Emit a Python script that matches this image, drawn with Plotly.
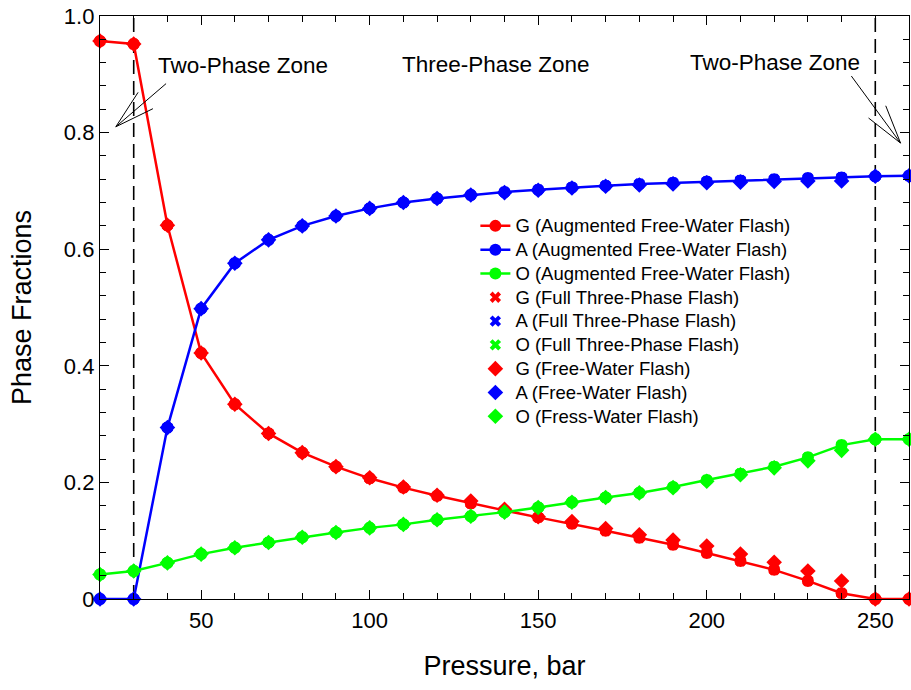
import plotly.graph_objects as go

pressure = [20, 30, 40, 50, 60, 70, 80, 90, 100, 110, 120, 130, 140, 150, 160,
            170, 180, 190, 200, 210, 220, 230, 240, 250, 260]

g_aug = [0.957, 0.952, 0.641, 0.422, 0.334, 0.284, 0.251, 0.227, 0.207, 0.191, 0.177,
         0.164, 0.152, 0.140, 0.129, 0.117, 0.105, 0.093, 0.079, 0.065, 0.050, 0.031,
         0.010, 0.0, 0.0]
a_aug = [0.0, 0.0, 0.294, 0.498, 0.576, 0.616, 0.640, 0.657, 0.670, 0.680, 0.687,
         0.693, 0.698, 0.702, 0.706, 0.709, 0.712, 0.714, 0.716, 0.718, 0.720, 0.722,
         0.723, 0.725, 0.726]
o_aug = [0.042, 0.048, 0.062, 0.077, 0.088, 0.097, 0.106, 0.114, 0.122, 0.128, 0.136,
         0.142, 0.149, 0.157, 0.166, 0.174, 0.182, 0.192, 0.204, 0.215, 0.227, 0.243,
         0.264, 0.274, 0.274]

g_full = g_aug[:]
a_full = a_aug[:]
o_full = o_aug[:]

g_fw = [0.957, 0.952, 0.641, 0.422, 0.334, 0.284, 0.251, 0.227, 0.208, 0.192, 0.178,
        0.168, 0.154, 0.141, 0.133, 0.121, 0.110, 0.101, 0.091, 0.077, 0.063, 0.048,
        0.031, 0.0, 0.0]
a_fw = [0.0, 0.0, 0.294, 0.498, 0.576, 0.616, 0.640, 0.657, 0.670, 0.680, 0.687,
        0.693, 0.697, 0.701, 0.705, 0.708, 0.710, 0.712, 0.714, 0.715, 0.716, 0.717,
        0.717, 0.725, 0.726]
o_fw = [0.042, 0.048, 0.062, 0.077, 0.088, 0.097, 0.106, 0.114, 0.122, 0.128, 0.136,
        0.142, 0.149, 0.157, 0.166, 0.174, 0.182, 0.191, 0.202, 0.213, 0.225, 0.237,
        0.255, 0.274, 0.274]

zone_bounds = [30, 250]
zone_labels = ["Two-Phase Zone", "Three-Phase Zone", "Two-Phase Zone"]
zone_label_x = [62.4, 137.6, 220.3]
zone_label_y = [0.915, 0.917, 0.920]

# arrows: tail, tip, head end 1, head end 2 (data coords)
left_arrow = [(39.6, 0.884), (24.7, 0.810), (35.7, 0.841), (31.3, 0.869)]
right_arrow = [(242.9, 0.897), (257.5, 0.782), (248.0, 0.825), (253.1, 0.846)]

RED, BLUE, GREEN = "#FF0000", "#0000FF", "#00FF00"
FONT = "Liberation Sans, Arial, sans-serif"


def leg(name):
    return '<span style="font-size:18.5px">' + name + '</span>'


fig = go.Figure()

for name, ys, col in [("G (Augmented Free-Water Flash)", g_aug, RED),
                      ("A (Augmented Free-Water Flash)", a_aug, BLUE),
                      ("O (Augmented Free-Water Flash)", o_aug, GREEN)]:
    fig.add_trace(go.Scatter(x=pressure, y=ys, name=leg(name), mode="lines+markers",
                             line=dict(color=col, width=2.5),
                             marker=dict(symbol="circle", size=12, color=col),
                             cliponaxis=False))

for name, ys, col in [("G (Full Three-Phase Flash)", g_full, RED),
                      ("A (Full Three-Phase Flash)", a_full, BLUE),
                      ("O (Full Three-Phase Flash)", o_full, GREEN)]:
    fig.add_trace(go.Scatter(x=pressure, y=ys, name=leg(name), mode="markers",
                             marker=dict(symbol="x", size=10, color=col,
                                         line=dict(width=0)),
                             cliponaxis=False))

for name, ys, col in [("G (Free-Water Flash)", g_fw, RED),
                      ("A (Free-Water Flash)", a_fw, BLUE),
                      ("O (Fress-Water Flash)", o_fw, GREEN)]:
    fig.add_trace(go.Scatter(x=pressure, y=ys, name=leg(name), mode="markers",
                             marker=dict(symbol="diamond", size=12, color=col),
                             cliponaxis=False))

shapes = []
for xb in zone_bounds:
    shapes.append(dict(type="line", xref="x", yref="y", x0=xb, x1=xb, y0=0, y1=1,
                       line=dict(color="black", width=1.6, dash="14px,7px"), layer="below"))
for arr in (left_arrow, right_arrow):
    tail, tip, h1, h2 = arr
    for p in (tail, h1, h2):
        shapes.append(dict(type="line", xref="x", yref="y", x0=p[0], y0=p[1],
                           x1=tip[0], y1=tip[1], line=dict(color="black", width=1)))

annotations = []
for txt, xa, ya in zip(zone_labels, zone_label_x, zone_label_y):
    annotations.append(dict(text=txt, x=xa, y=ya, xref="x", yref="y", showarrow=False,
                            font=dict(size=22.5, color="black", family=FONT)))

fig.update_layout(
    width=911, height=690,
    margin=dict(l=100, r=2, t=16, b=91),
    paper_bgcolor="white", plot_bgcolor="white",
    font=dict(family=FONT, color="black"),
    shapes=shapes, annotations=annotations,
    showlegend=True,
    legend=dict(x=0.464, y=0.669, xanchor="left", yanchor="top",
                bgcolor="rgba(0,0,0,0)", font=dict(size=16, family=FONT),
                tracegroupgap=0),
)

fig.update_xaxes(range=[20, 260], tickvals=[50, 100, 150, 200, 250],
                 ticks="inside", ticklen=9, tickwidth=1.3, tickcolor="black",
                 showline=True, linecolor="black", linewidth=1.3, mirror="ticks",
                 showgrid=False, zeroline=False, ticklabelstandoff=1,
                 tickfont=dict(size=22, family=FONT),
                 minor=dict(dtick=10, tick0=0, ticks="inside", ticklen=6, tickwidth=1,
                            tickcolor="black", showgrid=False),
                 title=dict(text="Pressure, bar", font=dict(size=27, family=FONT), standoff=24))
fig.update_yaxes(range=[0, 1], tickvals=[0, 0.2, 0.4, 0.6, 0.8, 1.0],
                 ticktext=["0", "0.2", "0.4", "0.6", "0.8", "1.0"],
                 ticks="inside", ticklen=9, tickwidth=1.3, tickcolor="black",
                 showline=True, linecolor="black", linewidth=1.3, mirror="ticks",
                 showgrid=False, zeroline=False,
                 tickfont=dict(size=22, family=FONT),
                 minor=dict(dtick=0.04, tick0=0, ticks="inside", ticklen=6, tickwidth=1,
                            tickcolor="black", showgrid=False),
                 title=dict(text="Phase Fractions", font=dict(size=27, family=FONT), standoff=24))

fig.write_html("out.html")
